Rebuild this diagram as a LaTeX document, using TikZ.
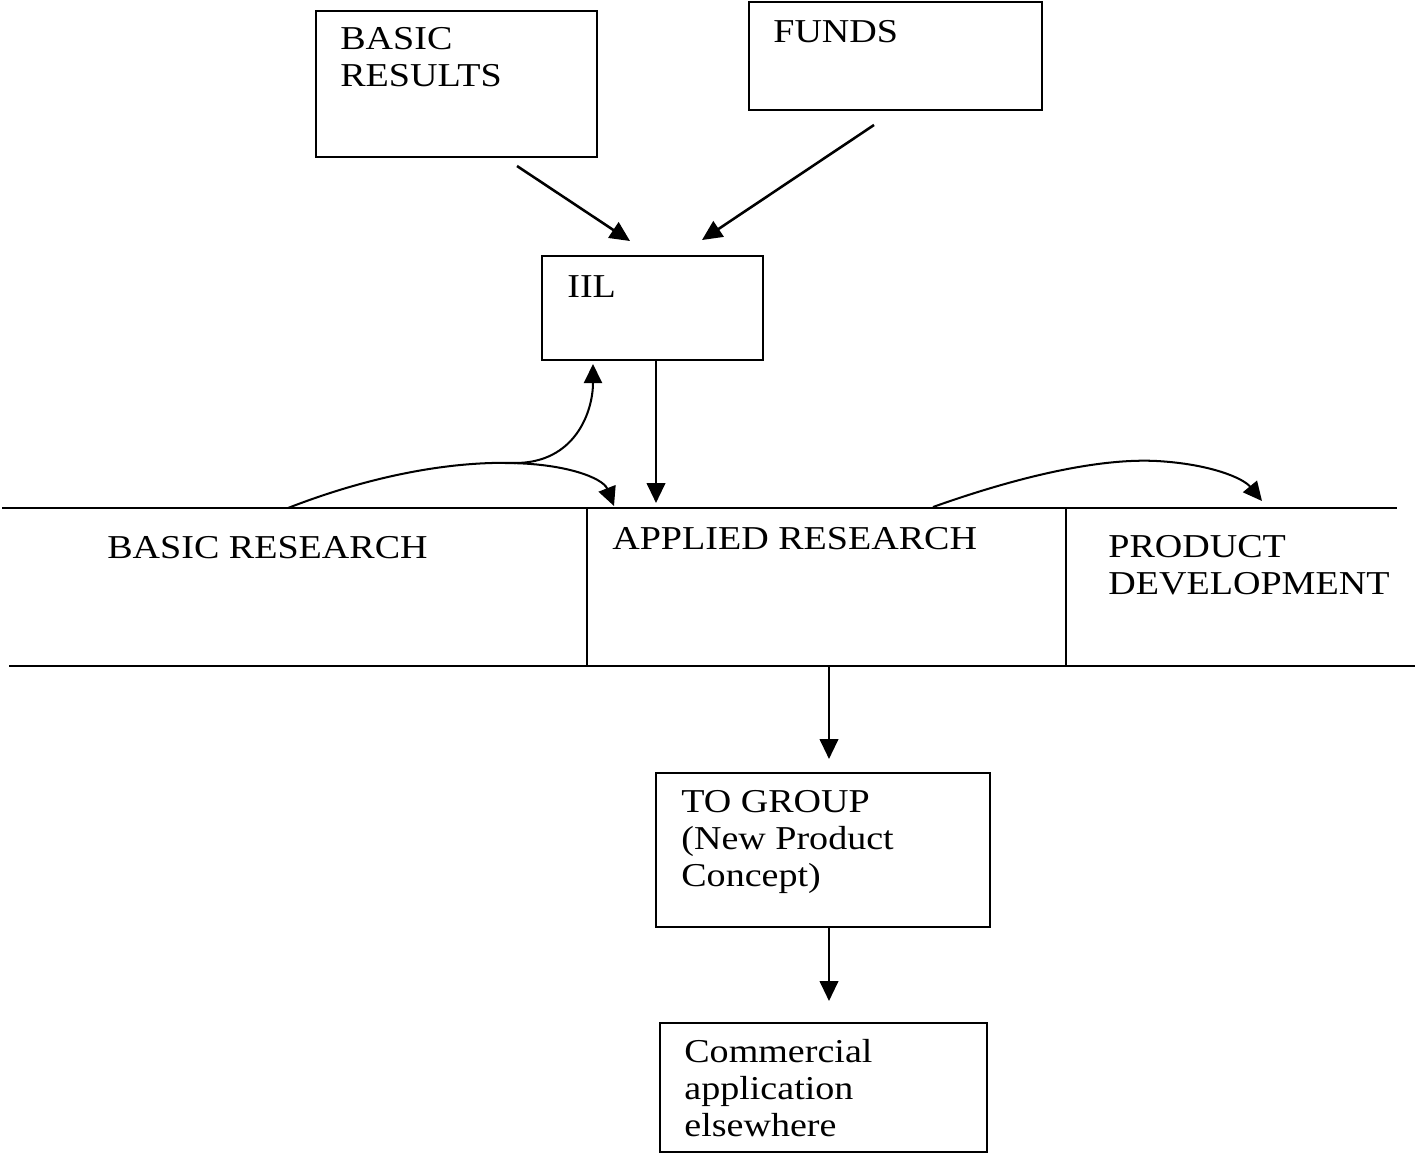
\documentclass[tikz,border=0pt]{standalone}
\usepackage{fontspec}
\setmainfont{Liberation Serif}[FakeStretch=1.14]
\usetikzlibrary{arrows.meta}
\tikzset{
  box/.style={draw, line width=1.2pt, anchor=north west, inner sep=0pt},
  txt/.style={anchor=north west, inner sep=0pt, align=left, font=\fontsize{19}{21}\selectfont},
  arr/.style={line width=1.45pt, -{Triangle[length=0.4cm,width=0.37cm]}},
  carr/.style={line width=1.15pt, -{Triangle[length=0.38cm,width=0.36cm]}},
  rule/.style={line width=1.2pt},
  divider/.style={line width=0.95pt}
}
\begin{document}
\begin{tikzpicture}[x=0.02cm,y=-0.02cm]
\useasboundingbox (0,0) rectangle (1417,1154);
% boxes
\node[box, minimum width=5.62cm, minimum height=2.92cm] (br) at (315,10) {};
\node[box, minimum width=5.86cm, minimum height=2.16cm] (funds) at (748,1) {};
\node[box, minimum width=4.42cm, minimum height=2.08cm] (iil) at (541,255) {};
\node[box, minimum width=6.68cm, minimum height=3.08cm] (tog) at (655,772) {};
\node[box, minimum width=6.54cm, minimum height=2.58cm] (com) at (659,1022) {};
% texts
\node[txt] (brt) at (340,27) {BASIC\\RESULTS};
\node[txt] (fundst) at (773,20) {FUNDS};
\node[txt] (iilt) at (567,275) {IIL};
\node[txt] (basicr) at (107,536) {BASIC RESEARCH};
\node[txt] (appr) at (612,527) {APPLIED RESEARCH};
\node[txt] (prod) at (1108,535) {PRODUCT\\DEVELOPMENT};
\node[txt] (togt) at (681,790) {TO GROUP\\(New Product\\Concept)};
\node[txt] (comt) at (684,1039) {Commercial\\application\\elsewhere};
% band
\coordinate (tl) at (2,508); \coordinate (tr) at (1397,508);
\coordinate (bl) at (9,666); \coordinate (brr) at (1415,666);
\draw[rule] (tl) -- (tr);
\draw[rule] (bl) -- (brr);
\coordinate (d1t) at (587,508); \coordinate (d1b) at (587,666);
\coordinate (d2t) at (1066,508); \coordinate (d2b) at (1066,666);
\draw[divider] (d1t) -- (d1b);
\draw[divider] (d2t) -- (d2b);
% connectors
\coordinate (brA) at (517,166); \coordinate (iilA) at (630,241);
\coordinate (fuA) at (874,125); \coordinate (iilB) at (702,240);
\draw[arr] (brA) -- (iilA);
\draw[arr] (fuA) -- (iilB);
\coordinate (iilS) at (656,359); \coordinate (appT) at (656,503);
\draw[arr] (iilS) -- (appT);
\coordinate (c0) at (288,508); \coordinate (peak) at (515,463);
\coordinate (iilU) at (593,364); \coordinate (appL) at (614,506);
\draw[line width=1.15pt] (c0) .. controls (370,476) and (450,461) .. (peak);
\draw[carr] (peak) .. controls (575,463) and (593,412) .. (iilU);
\draw[carr] (505,463) .. controls (565,463) and (603,478) .. (appL);
\coordinate (r0) at (933,507); \coordinate (rpk) at (1157,461); \coordinate (pdT) at (1262,501);
\draw[carr] (r0) .. controls (1020,476) and (1100,458) .. (rpk) .. controls (1210,464) and (1243,478) .. (pdT);
\coordinate (arB) at (829,666); \coordinate (togT) at (829,759);
\draw[arr] (arB) -- (togT);
\coordinate (togB) at (829,926); \coordinate (comT) at (829,1001);
\draw[arr] (togB) -- (comT);
\end{tikzpicture}
\end{document}
